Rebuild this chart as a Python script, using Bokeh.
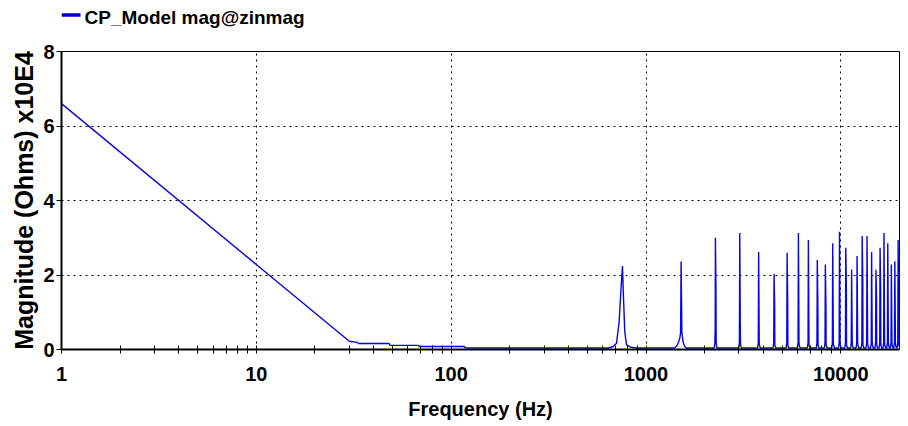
from bokeh.plotting import figure
from bokeh.layouts import column
from bokeh.models import FixedTicker, NumeralTickFormatter, ColumnDataSource
from bokeh.core.properties import value
from bokeh.embed import file_html
from bokeh.resources import INLINE

# Low-frequency capacitive slope and the stepped floor that follows it (Hz, Ohms x1e4)
freq_low = [1, 30, 33, 33.5, 48, 48.5, 68, 68.5, 117, 118, 640]
mag_low = [6.6, 0.22, 0.19, 0.16, 0.16, 0.11, 0.11, 0.08, 0.08, 0.04, 0.04]

# Resonances near 757 Hz and its harmonics
freq_res = [
    678, 706, 728, 743, 757, 766, 778, 794, 832, 893,
    1400, 1440, 1470, 1490, 1505, 1514, 1521, 1528, 1550, 1580, 1610,
    2240, 2255, 2265, 2271, 2285, 2291, 2310,
    2992, 3016, 3028, 3049, 3055, 3089,
    3740, 3770, 3785, 3811, 3819, 3861,
    4487, 4524, 4542, 4574, 4583, 4633,
    5235, 5278, 5299, 5336, 5347, 5405,
    5983, 6032, 6056, 6098, 6111, 6177,
    6731, 6786, 6813, 6861, 6874, 6949,
    7479, 7540, 7570, 7623, 7638, 7721,
    8227, 8294, 8327, 8385, 8402, 8494,
    8975, 9048, 9084, 9148, 9166, 9266,
    9723, 9802, 9841, 9910, 9930, 10038,
    10471, 10556, 10598, 10672, 10693, 10810,
    11219, 11310, 11355, 11434, 11457, 11582,
    11967, 12064, 12112, 12197, 12221, 12354,
    12715, 12818, 12869, 12959, 12985, 13126,
    13462, 13571, 13626, 13721, 13749, 13899,
    14210, 14325, 14383, 14484, 14512, 14671,
    14958, 15079, 15140, 15246, 15276, 15443,
    15706, 15833, 15897, 16008, 16040, 16215,
    16454, 16587, 16654, 16771, 16804, 16987,
    17202, 17341, 17411, 17533, 17568, 17759,
    17950, 18095, 18168, 18295, 18332, 18531,
    18698, 18849, 18925, 19057, 19095, 19304,
    19446, 19603, 19682, 19820, 19859, 20076,
]
mag_res = [
    0.08, 0.17, 0.75, 1.56, 2.24, 1.42, 0.48, 0.13, 0.06, 0.04,
    0.04, 0.10, 0.20, 0.30, 0.45, 2.36, 1.39, 0.45, 0.20, 0.08, 0.04,
    0.04, 0.15, 0.55, 3.00, 1.70, 0.20, 0.04,
    0.04, 0.18, 3.13, 0.43, 0.12, 0.04,
    0.04, 0.18, 2.62, 0.20, 0.12, 0.04,
    0.04, 0.18, 2.03, 1.18, 0.12, 0.04,
    0.04, 0.18, 2.60, 1.24, 0.12, 0.04,
    0.04, 0.18, 3.13, 0.20, 0.12, 0.04,
    0.04, 0.18, 2.94, 0.20, 0.12, 0.04,
    0.04, 0.18, 2.40, 1.14, 0.12, 0.04,
    0.04, 0.18, 2.28, 1.18, 0.12, 0.04,
    0.04, 0.18, 2.85, 0.20, 0.12, 0.04,
    0.04, 0.18, 3.16, 0.25, 0.12, 0.04,
    0.04, 0.18, 2.73, 1.66, 0.12, 0.04,
    0.04, 0.18, 2.15, 0.28, 0.12, 0.04,
    0.04, 0.18, 2.51, 0.20, 0.12, 0.04,
    0.04, 0.18, 3.05, 1.84, 0.12, 0.04,
    0.04, 0.18, 3.05, 0.20, 0.12, 0.04,
    0.04, 0.18, 2.62, 0.20, 0.12, 0.04,
    0.04, 0.18, 2.14, 1.35, 0.12, 0.04,
    0.04, 0.18, 2.73, 1.61, 0.12, 0.04,
    0.04, 0.18, 3.13, 0.20, 0.12, 0.04,
    0.04, 0.18, 2.85, 0.20, 0.12, 0.04,
    0.04, 0.18, 2.28, 0.20, 0.12, 0.04,
    0.04, 0.18, 2.37, 0.20, 0.12, 0.04,
    0.04, 0.18, 2.94, 0.20, 0.12, 0.04,
]

series_name = "CP_Model mag@zinmag"
x_ticks = [1, 10, 100, 1000, 10000]
x_minor = [2, 3, 4, 5, 6, 7, 8, 9, 20, 30, 40, 50, 60, 70, 80, 90,
           200, 300, 400, 500, 600, 700, 800, 900,
           2000, 3000, 4000, 5000, 6000, 7000, 8000, 9000]
y_ticks = [0, 2, 4, 6, 8]

FONT = "Liberation Sans"
LINE_COLOR = "#0505e6"

# --- key strip above the chart; its frame lines up with the chart frame,
#     so the x range is given in page pixels across that frame ---
key = figure(width=908, height=41, x_range=(61, 899), y_range=(41, 0),
             output_backend="svg", toolbar_location=None,
             x_axis_location=None, y_axis_location=None,
             min_border_left=61, min_border_right=9, min_border_top=0, min_border_bottom=0)
key.outline_line_color = None
key.xgrid.visible = False
key.ygrid.visible = False
key.border_fill_color = "white"
key.background_fill_color = "white"
key.line(x=[61, 80], y=[14.5, 14.5], line_color="#0000cc", line_width=3.5)
key.text(x=[84], y=[17], text=[series_name], text_font=value(FONT),
         text_font_style="bold", text_font_size="19px", text_color="black",
         text_baseline="middle", text_align="left")

# --- main chart ---
src = ColumnDataSource(data=dict(f=freq_low + freq_res, m=mag_low + mag_res))

p = figure(width=908, height=385, x_axis_type="log", x_range=(1, 20000), y_range=(0, 8),
           output_backend="svg", toolbar_location=None,
           min_border_left=61, min_border_right=9, min_border_top=10, min_border_bottom=77)
p.background_fill_color = "white"
p.border_fill_color = "white"
p.outline_line_color = "black"
p.outline_line_width = 1

p.line("f", "m", source=src, line_color=LINE_COLOR, line_width=1.4)

# axes
p.xaxis.ticker = FixedTicker(ticks=x_ticks, minor_ticks=x_minor)
p.xaxis.formatter = NumeralTickFormatter(format="0")
p.yaxis.ticker = FixedTicker(ticks=y_ticks, minor_ticks=[])
for ax in (p.xaxis[0], p.yaxis[0]):
    ax.axis_line_color = "black"
    ax.axis_line_width = 2
    ax.major_tick_line_color = "black"
    ax.minor_tick_line_color = "black"
    ax.major_label_text_font = FONT
    ax.major_label_text_font_style = "bold"
    ax.major_label_text_font_size = "20px"
    ax.major_label_text_color = "black"
    ax.axis_label_text_font = FONT
    ax.axis_label_text_font_style = "bold"
    ax.axis_label_text_color = "black"

p.xaxis.major_tick_in = 4
p.xaxis.major_tick_out = 4
p.xaxis.minor_tick_in = 4
p.xaxis.minor_tick_out = 4
p.xaxis.major_label_standoff = 13
p.xaxis.axis_label = "Frequency (Hz)"
p.xaxis.axis_label_text_font_size = "20px"
p.xaxis.axis_label_standoff = 14

p.yaxis.major_tick_in = 0
p.yaxis.major_tick_out = 5
p.yaxis.minor_tick_in = 0
p.yaxis.minor_tick_out = 0
p.yaxis.major_label_standoff = 2
p.yaxis.axis_label = "Magnitude (Ohms) x10E4"
p.yaxis.axis_label_text_font_size = "25px"
p.yaxis.axis_label_standoff = 2

# dotted grid
p.xgrid.ticker = FixedTicker(ticks=x_ticks[1:])
p.ygrid.ticker = FixedTicker(ticks=y_ticks[1:-1])
for g in (p.xgrid[0], p.ygrid[0]):
    g.grid_line_color = "black"
    g.grid_line_dash = "2 4"
    g.grid_line_width = 1

layout = column(key, p, spacing=0)
open("out.html", "w").write(file_html(layout, INLINE))
